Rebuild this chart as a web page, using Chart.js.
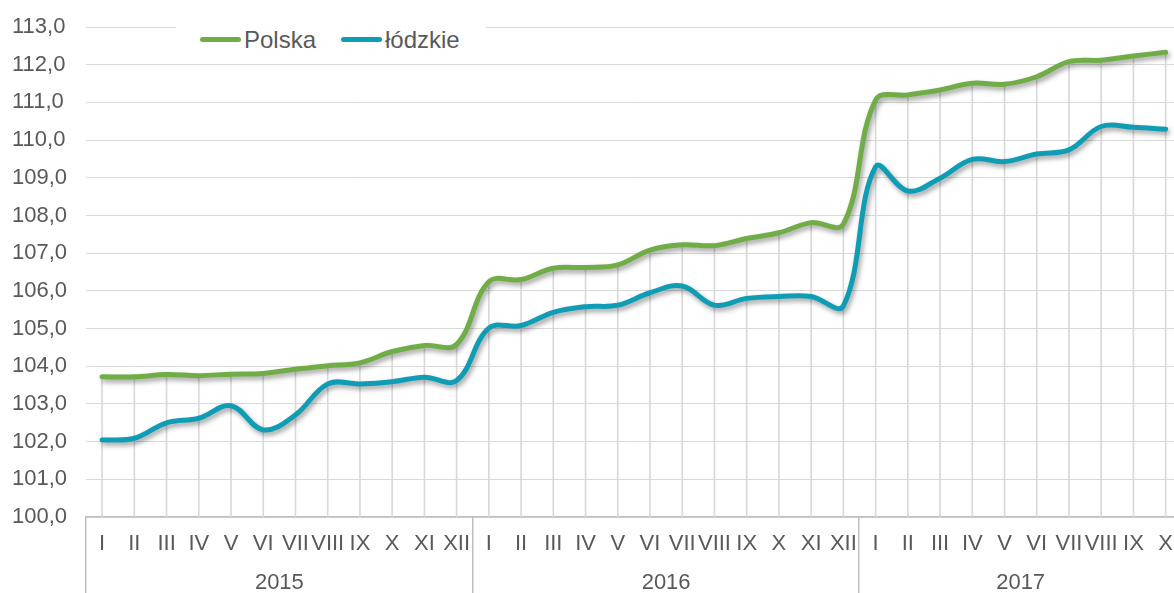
<!DOCTYPE html>
<html>
<head>
<meta charset="utf-8">
<script src="https://cdn.jsdelivr.net/npm/chart.js@4/dist/chart.umd.min.js"></script>
<style>
  html, body { margin: 0; padding: 0; background: #fff; overflow: hidden; }
  #wrap { position: relative; width: 1187px; height: 593px; }
  #legend { position: absolute; left: 176px; top: 12px; width: 310px; height: 52px; background: #fff;
            font-family: "Liberation Sans", Arial, sans-serif; font-size: 24px; color: #595959; }
  .item { position: absolute; top: 14px; line-height: 28px; white-space: nowrap; }
  .swatch { display: inline-block; width: 41px; height: 5px; border-radius: 3px; vertical-align: middle; margin-right: 3px; position: relative; top: -2px; }
</style>
</head>
<body>
<div id="wrap">
  <canvas id="c" width="1187" height="593"></canvas>
  <div id="legend"></div>
</div>
<script>
const years = ['2015', '2016', '2017'];
const monthsPerYear = [12, 12, 10];
const romanMonths = ['I','II','III','IV','V','VI','VII','VIII','IX','X','XI','XII'];
const yTicks = [100, 101, 102, 103, 104, 105, 106, 107, 108, 109, 110, 111, 112, 113];

const polska = [
  103.72, 103.72, 103.78, 103.75, 103.79, 103.81, 103.92, 104.01, 104.09, 104.39, 104.55, 104.58,
  106.24, 106.30, 106.60, 106.62, 106.69, 107.08, 107.22, 107.20, 107.39, 107.54, 107.81, 107.77,
  111.06, 111.20, 111.33, 111.51, 111.48, 111.68, 112.08, 112.12, 112.23, 112.33
];
const lodzkie = [
  102.04, 102.09, 102.50, 102.62, 102.95, 102.31, 102.71, 103.53, 103.53, 103.59, 103.71, 103.62,
  105.01, 105.08, 105.43, 105.58, 105.62, 105.95, 106.13, 105.62, 105.80, 105.85, 105.85, 105.60,
  109.29, 108.65, 108.99, 109.49, 109.43, 109.63, 109.74, 110.36, 110.34, 110.29
];

const categories = [];
years.forEach((y, i) => { for (let m = 0; m < monthsPerYear[i]; m++) categories.push(romanMonths[m]); });

const FONT = '"Liberation Sans", Arial, sans-serif';
const TEXT = '#595959';
const GREEN = '#70AD47';
const TEAL = '#0F9DB6';

const shadowPlugin = {
  id: 'lineShadow',
  beforeDatasetDraw(chart, args) {
    const ds = chart.data.datasets[args.index];
    if (ds.type !== 'line') return;
    const ctx = chart.ctx;
    ctx.save();
    ctx.shadowColor = 'rgba(0,0,0,0.38)';
    ctx.shadowBlur = 5;
    ctx.shadowOffsetX = 2;
    ctx.shadowOffsetY = 3;
  },
  afterDatasetDraw(chart, args) {
    const ds = chart.data.datasets[args.index];
    if (ds.type !== 'line') return;
    chart.ctx.restore();
  }
};

const groupPlugin = {
  id: 'yearGroups',
  afterDraw(chart) {
    const x = chart.scales.x;
    const ctx = chart.ctx;
    const top = x.top;
    const bottom = chart.height;
    const half = (x.getPixelForValue(1) - x.getPixelForValue(0)) / 2;
    ctx.save();
    ctx.strokeStyle = '#BFBFBF';
    ctx.lineWidth = 1.5;
    ctx.fillStyle = TEXT;
    ctx.font = '22px ' + FONT;
    ctx.textAlign = 'center';
    ctx.textBaseline = 'middle';
    let start = 0;
    years.forEach((y, i) => {
      const end = start + monthsPerYear[i] - 1;
      const left = x.getPixelForValue(start) - half;
      const right = x.getPixelForValue(end) + half;
      ctx.beginPath();
      ctx.moveTo(Math.round(left) - 0.25, top);
      ctx.lineTo(Math.round(left) - 0.25, bottom);
      ctx.stroke();
      ctx.fillText(y, (left + right) / 2, 583);
      start = end + 1;
    });
    ctx.restore();
  }
};

const chart = new Chart(document.getElementById('c'), {
  type: 'line',
  data: {
    labels: categories,
    datasets: [
      { type: 'line', label: 'Polska', data: polska, borderColor: GREEN, backgroundColor: GREEN,
        borderWidth: 5, pointRadius: 0, tension: 0.38, borderCapStyle: 'round', borderJoinStyle: 'round', order: 1 },
      { type: 'line', label: 'łódzkie', data: lodzkie, borderColor: TEAL, backgroundColor: TEAL,
        borderWidth: 5, pointRadius: 0, tension: 0.38, borderCapStyle: 'round', borderJoinStyle: 'round', order: 0 },
      { type: 'bar', label: 'drop', data: polska, backgroundColor: '#D9D9D9', borderWidth: 0,
        barThickness: 1, order: 5 }
    ]
  },
  options: {
    responsive: false,
    animation: false,
    devicePixelRatio: 1,
    layout: { padding: { left: 12, right: 0, top: 27, bottom: 0 } },
    plugins: { legend: { display: false }, tooltip: { enabled: false } },
    scales: {
      x: {
        type: 'category',
        offset: true,
        grid: { display: false, drawTicks: false },
        border: { display: true, color: '#BFBFBF', width: 1.5 },
        ticks: { autoSkip: false, maxRotation: 0, minRotation: 0, padding: 14,
                 color: TEXT, font: { family: FONT, size: 22 } },
        afterFit(s) { s.height = 76; }
      },
      y: {
        min: 100, max: 113,
        afterBuildTicks(s) { s.ticks = yTicks.map(v => ({ value: v })); },
        grid: { color: '#D9D9D9', lineWidth: 1, drawTicks: false },
        border: { display: false },
        ticks: { padding: 0, crossAlign: 'far', color: TEXT, font: { family: FONT, size: 22 },
                 callback: v => v.toFixed(1).replace('.', ',') },
        afterFit(s) { s.width = 74; }
      }
    }
  },
  plugins: [shadowPlugin, groupPlugin]
});

const legendEl = document.getElementById('legend');
const lefts = [24, 165];
chart.data.datasets.filter(d => d.type === 'line').forEach((d, i) => {
  const item = document.createElement('div');
  item.className = 'item';
  item.style.left = lefts[i] + 'px';
  const sw = document.createElement('span');
  sw.className = 'swatch';
  sw.style.background = d.borderColor;
  item.appendChild(sw);
  item.appendChild(document.createTextNode(d.label));
  legendEl.appendChild(item);
});
</script>
</body>
</html>
